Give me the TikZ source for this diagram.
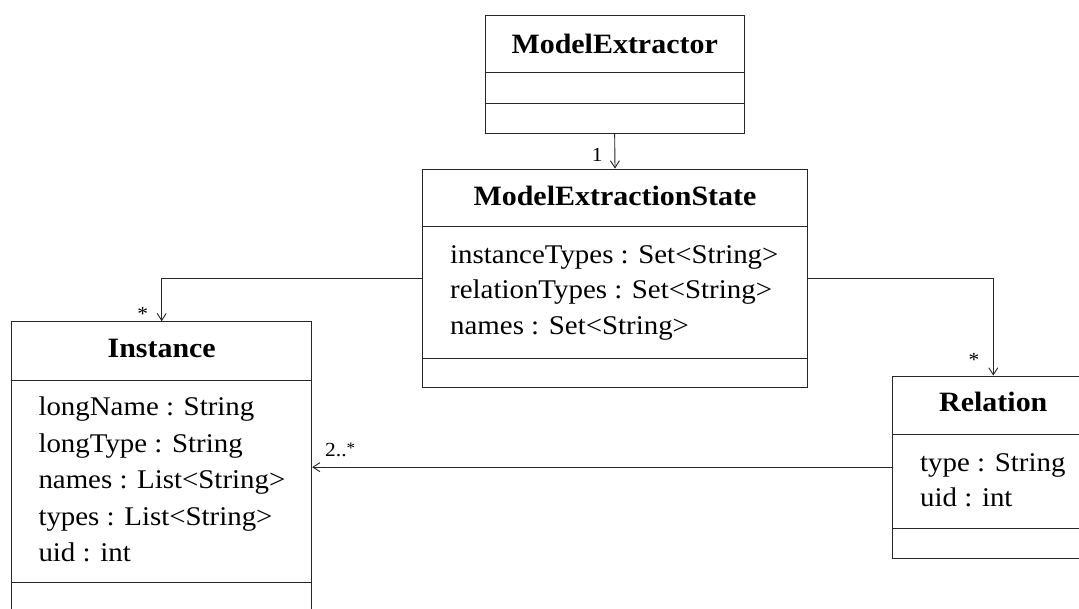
\documentclass[tikz,border=0pt]{standalone}
\usepackage{fontspec}
\setmainfont{Liberation Serif}[FakeStretch=1.07]
\usetikzlibrary{arrows.meta}
\tikzset{
  cls/.style={draw=black!85, line width=0.9pt, inner sep=0pt, fill=none},
  sep/.style={draw=black!85, line width=0.9pt},
  title/.style={inner sep=0pt, anchor=base, font=\fontsize{28}{32}\selectfont\bfseries},
  attr/.style={inner sep=0pt, anchor=base west, font=\fontsize{27}{32}\selectfont},
  mult/.style={inner sep=0pt, anchor=base west, font=\fontsize{20}{24}\selectfont},
  assoc/.style={draw=black!85, line width=0.9pt, -{Straight Barb[length=7pt,width=9pt]}},
}
\begin{document}
\begin{tikzpicture}[x=1pt,y=-1pt]
\useasboundingbox (0,0) rectangle (1079,608);
\clip (0,0) rectangle (1079,608);
% ModelExtractor
\node[cls, minimum width=259.3pt, minimum height=118.3pt] (me) at (614.65,74.15) {};
\draw[sep] (me.west |- 0,72.7) -- (me.east |- 0,72.7);
\draw[sep] (me.west |- 0,103.3) -- (me.east |- 0,103.3);
\node[title] (met) at (614.65,53.3) {ModelExtractor};
% ModelExtractionState
\node[cls, minimum width=384.6pt, minimum height=218.7pt] (mes) at (615,278.35) {};
\draw[sep] (mes.west |- 0,226.7) -- (mes.east |- 0,226.7);
\draw[sep] (mes.west |- 0,358) -- (mes.east |- 0,358);
\node[title] (mest) at (615,205) {ModelExtractionState};
\node[attr] (mes1) at (450,263.3) {instanceTypes : Set<String>};
\node[attr] (mes2) at (450,298.8) {relationTypes : Set<String>};
\node[attr] (mes3) at (450,334.3) {names : Set<String>};
% Instance
\node[cls, minimum width=300pt, minimum height=291.3pt] (inst) at (161.7,467.35) {};
\draw[sep] (inst.west |- 0,380) -- (inst.east |- 0,380);
\draw[sep] (inst.west |- 0,582.7) -- (inst.east |- 0,582.7);
\node[title] (instt) at (161.7,357.7) {Instance};
\node[attr] (i1) at (38.3,415.7) {longName : String};
\node[attr] (i2) at (38.3,452.2) {longType : String};
\node[attr] (i3) at (38.3,488.7) {names : List<String>};
\node[attr] (i4) at (38.3,525.2) {types : List<String>};
\node[attr] (i5) at (38.3,561.7) {uid : int};
% Relation
\node[cls, minimum width=202pt, minimum height=182.3pt] (rel) at (993.3,467.15) {};
\draw[sep] (rel.west |- 0,434) -- (rel.east |- 0,434);
\draw[sep] (rel.west |- 0,528.3) -- (rel.east |- 0,528.3);
\node[title] (relt) at (993.3,411.7) {Relation};
\node[attr] (r1) at (920,471.7) {type : String};
\node[attr] (r2) at (920,506.7) {uid : int};
% connectors
\draw[assoc] (me.south) -- (mes.north);
\draw[assoc] (mes.west) -| (inst.north);
\draw[assoc] (mes.east) -| (rel.north);
\draw[assoc] (rel.west) -- (inst.east |- rel.west);
% multiplicities
\node[mult] (m1) at (591.7,161.7) {1};
\node[mult, anchor=base] (m2) at (142.7,320) {*};
\node[mult, anchor=base] (m3) at (974,366.7) {*};
\node[mult] (m4) at (325,456.7) {2..\raisebox{3pt}{\fontsize{16}{18}\selectfont *}};
\end{tikzpicture}
\end{document}
